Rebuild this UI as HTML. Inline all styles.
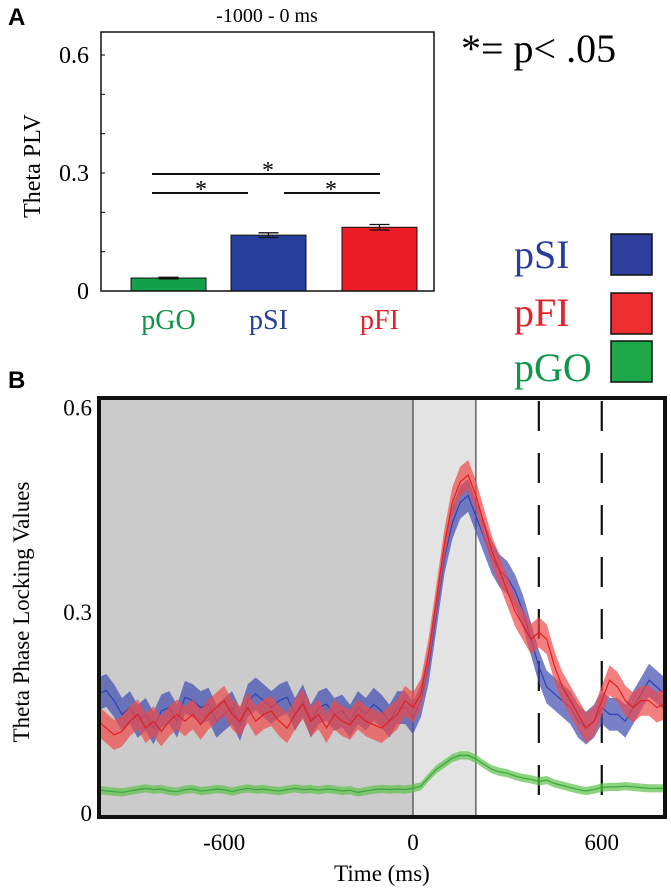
<!DOCTYPE html>
<html><head><meta charset="utf-8"><style>
body{margin:0;background:#fff;}
svg{display:block;font-family:"Liberation Serif",serif;}
</style></head><body>
<svg id="fig" width="671" height="892"></svg>
<script>
// Panel A data
const barCats=["pGO","pSI","pFI"];
const barVals=[0.033,0.142,0.162];
const barErr=[0.002,0.006,0.007];
const yTicksA=[0,0.3,0.6];
// Panel B data
const times=[];for(let t=-1000;t<=800;t+=25)times.push(t);
const blueMean=[0.18,0.185,0.17,0.15,0.16,0.14,0.15,0.13,0.155,0.16,0.14,0.175,0.17,0.16,0.165,0.14,0.15,0.16,0.135,0.17,0.18,0.17,0.16,0.17,0.175,0.15,0.17,0.14,0.16,0.165,0.15,0.155,0.14,0.16,0.15,0.165,0.155,0.14,0.16,0.16,0.145,
0.17,0.22,0.3,0.38,0.43,0.46,0.47,0.44,0.41,0.38,0.36,0.35,0.33,0.3,0.26,0.22,0.19,0.18,0.17,0.16,0.14,0.13,0.14,0.16,0.15,0.15,0.14,0.16,0.18,0.2,0.19,0.18];
const redMean=[0.14,0.13,0.12,0.125,0.14,0.15,0.13,0.14,0.125,0.14,0.15,0.14,0.15,0.135,0.15,0.16,0.17,0.15,0.14,0.16,0.14,0.15,0.155,0.14,0.13,0.15,0.165,0.14,0.15,0.13,0.15,0.14,0.135,0.15,0.14,0.135,0.13,0.14,0.15,0.17,0.16,
0.18,0.24,0.32,0.4,0.46,0.49,0.5,0.47,0.43,0.39,0.36,0.33,0.3,0.28,0.26,0.27,0.26,0.22,0.19,0.17,0.15,0.13,0.14,0.17,0.2,0.19,0.17,0.16,0.17,0.17,0.16,0.165];
const greenMean=[0.04,0.038,0.037,0.036,0.038,0.04,0.042,0.04,0.041,0.038,0.037,0.04,0.041,0.038,0.039,0.041,0.04,0.037,0.04,0.042,0.04,0.041,0.039,0.038,0.04,0.042,0.04,0.041,0.039,0.041,0.04,0.038,0.039,0.036,0.038,0.04,0.041,0.04,0.041,0.04,0.042,
0.045,0.058,0.07,0.078,0.086,0.09,0.09,0.085,0.077,0.07,0.066,0.064,0.06,0.057,0.055,0.052,0.054,0.049,0.046,0.043,0.04,0.038,0.04,0.043,0.044,0.044,0.045,0.044,0.043,0.042,0.042,0.042];
const blueSem=[0.024];const redSem=[0.022];const greenSem=[0.006];
const xTicksB=[-600,0,600];const yTicksB=[0,0.3,0.6];

const NS="http://www.w3.org/2000/svg";const svg=document.getElementById('fig');
function mk(tag,attrs,parent,text){const e=document.createElementNS(NS,tag);for(const k in attrs)e.setAttribute(k,attrs[k]);if(text!==undefined)e.textContent=text;(parent||svg).appendChild(e);return e;}

// ---- Panel A
const yA=v=>291-v*393.3;
let e;
e=mk('text',{x:8,y:25,'font-family':'Liberation Sans, sans-serif','font-weight':'bold','font-size':24},svg,'A');

e=mk('text',{x:267,y:22,'font-size':20,'text-anchor':'middle'},svg,'-1000 - 0 ms');

e=mk('text',{x:461,y:62,'font-size':40},svg,'*= p< .05');

e=mk('text',{x:0,y:0,'font-size':24,'text-anchor':'middle',transform:'translate(40,166) rotate(-90)'},svg,'Theta PLV');

for(let v=0.1;v<0.65;v+=0.1){e=mk('line',{x1:101,x2:105,y1:yA(v),y2:yA(v),stroke:'#000','stroke-width':1});
}
yTicksA.forEach(v=>{e=mk('text',{x:89,y:yA(v)+8,'font-size':24,'text-anchor':'end'},svg,v===0?'0':v.toFixed(1));
});
const barCol=['#13a04a','#263f9c','#ec1d26'];const txtCol=['#0f9447','#273f98','#e0222b'];
const barX=[131,231,342];
barVals.forEach((v,i)=>{
 e=mk('rect',{x:barX[i],y:yA(v),width:75,height:291-yA(v),fill:barCol[i],stroke:'#111','stroke-width':1});
 
 const cx=barX[i]+37.5;
 const g=mk('g',{stroke:'#111','stroke-width':1.3});
 mk('line',{x1:cx,x2:cx,y1:yA(v+barErr[i]),y2:yA(v-barErr[i])},g);
 mk('line',{x1:cx-10,x2:cx+10,y1:yA(v+barErr[i]),y2:yA(v+barErr[i])},g);
 mk('line',{x1:cx-10,x2:cx+10,y1:yA(v-barErr[i]),y2:yA(v-barErr[i])},g);
 e=mk('text',{x:cx,y:329,'font-size':28,'text-anchor':'middle',fill:txtCol[i]},svg,barCats[i]);
 
});
e=mk('rect',{x:101,y:32,width:333,height:259,fill:'none',stroke:'#111','stroke-width':1.5});

[[152,380,174,'*',268],[152,248,193,'*',201],[284,380,193,'*',331]].forEach(s=>{
 e=mk('line',{x1:s[0],x2:s[1],y1:s[2],y2:s[2],stroke:'#111','stroke-width':2});
 
 e=mk('text',{x:s[4],y:s[2]+4,'font-size':24,'text-anchor':'middle'},svg,s[3]);
 
});
// legend
[['pSI','#2b3d9a','#2e3f9e',268,234],['pFI','#e3232c','#ee2e30',326,293],['pGO','#10964a','#1ea84a',381,341]].forEach(l=>{
 e=mk('text',{x:514,y:l[3],'font-size':40,fill:l[1]},svg,l[0]);
 
 e=mk('rect',{x:611,y:l[4],width:41,height:41,fill:l[2],stroke:'#111','stroke-width':1.5});
 
});

// ---- Panel B
const xB=t=>413+t*0.3146;const yB=v=>817-v*684;
const plotTop=398;
e=mk('text',{x:8,y:388,'font-family':'Liberation Sans, sans-serif','font-weight':'bold','font-size':24},svg,'B');

e=mk('rect',{x:xB(-1000),y:plotTop,width:xB(0)-xB(-1000),height:817-plotTop,fill:'#cbcbcb'});

e=mk('rect',{x:xB(0),y:plotTop,width:xB(200)-xB(0),height:817-plotTop,fill:'#e3e3e3'});

[0,200].forEach(t=>{e=mk('line',{x1:xB(t),x2:xB(t),y1:plotTop,y2:817,stroke:'#222','stroke-width':1});
});
[400,600].forEach(t=>{e=mk('line',{x1:xB(t),x2:xB(t),y1:401,y2:817,stroke:'#111','stroke-width':2.2,'stroke-dasharray':'30,22'});
});
function series(mean,sem,fill,line,name){
 let up='',dn='';
 times.forEach((t,i)=>{up+=(i?'L':'M')+xB(t).toFixed(1)+','+yB(mean[i]+sem[0]).toFixed(1);});
 for(let i=times.length-1;i>=0;i--)dn+='L'+xB(times[i]).toFixed(1)+','+yB(mean[i]-sem[0]).toFixed(1);
 let e=mk('path',{d:up+dn+'Z',fill:fill,'fill-opacity':0.7});
 
 let d='';times.forEach((t,i)=>{d+=(i?'L':'M')+xB(t).toFixed(1)+','+yB(mean[i]).toFixed(1);});
 e=mk('path',{d:d,fill:'none',stroke:line,'stroke-width':1.2});
 
}
series(greenMean,greenSem,'#5cc04a','#3aa83a','pgo');
series(blueMean,blueSem,'#3f4bb0','#3040b0','psi');
series(redMean,redSem,'#f04848','#e02020','pfi');
e=mk('rect',{x:99,y:plotTop,width:566,height:817-plotTop,fill:'none',stroke:'#111','stroke-width':4});

yTicksB.forEach(v=>{e=mk('text',{x:92,y:yB(v)+(v===0.6?9:v===0?4:8),'font-size':23,'text-anchor':'end'},svg,v===0?'0':v.toFixed(1));
});
xTicksB.forEach(t=>{e=mk('text',{x:xB(t),y:850,'font-size':23,'text-anchor':'middle'},svg,String(t));
});
e=mk('text',{x:382,y:881,'font-size':23,'text-anchor':'middle'},svg,'Time (ms)');

e=mk('text',{x:0,y:0,'font-size':23,'text-anchor':'middle',transform:'translate(29,612) rotate(-90)'},svg,'Theta Phase Locking Values');

</script>
</body></html>
